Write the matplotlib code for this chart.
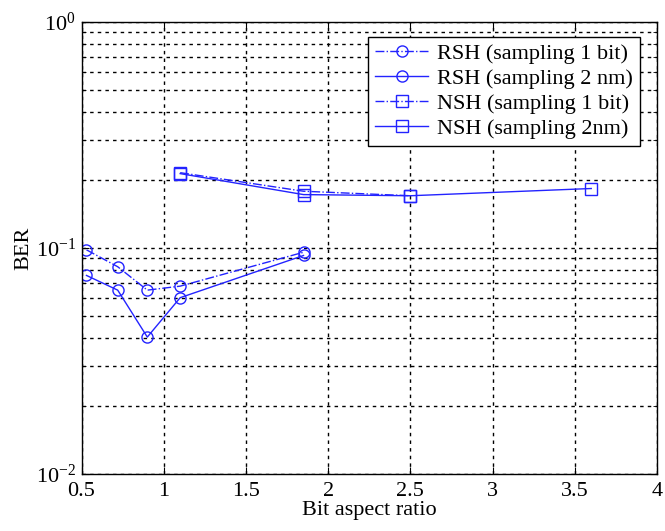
import numpy as np
import matplotlib.pyplot as plt
from matplotlib.ticker import LogLocator, FixedLocator, NullFormatter

# ---------------------------------------------------------
# STYLE
# ---------------------------------------------------------
plt.rcParams.update({
    "font.family": "Liberation Serif",
    "mathtext.fontset": "custom",
    "mathtext.rm": "Liberation Serif",
    "mathtext.it": "Liberation Serif:italic",
    "font.size": 16,
    "axes.linewidth": 1.0,
})

# ---------------------------------------------------------
# DATA
# ---------------------------------------------------------
rsh_x = [0.53, 0.72, 0.90, 1.10, 1.85]
rsh_1bit = [0.098, 0.0825, 0.065, 0.0677, 0.0956]
rsh_2nm = [0.0755, 0.065, 0.0403, 0.0602, 0.0925]

nsh_1bit_x = [1.10, 1.85, 2.50]
nsh_1bit = [0.215, 0.178, 0.170]
nsh_2nm_x = [1.10, 1.85, 2.50, 3.60]
nsh_2nm = [0.213, 0.172, 0.170, 0.183]

labels = ["RSH (sampling 1 bit)", "RSH (sampling 2 nm)",
          "NSH (sampling 1 bit)", "NSH (sampling 2nm)"]

blue = "#2323ff"

fig = plt.figure(figsize=(6.65, 5.31), dpi=100)
ax = fig.add_axes([0.1226, 0.1075, 0.8654, 0.8515])

mk = dict(markersize=8, markerfacecolor="none", markeredgewidth=1.0, linewidth=1.0)
ax.plot(rsh_x, rsh_1bit, linestyle="-.", marker="o", color=blue, label=labels[0], **mk)
ax.plot(rsh_x, rsh_2nm, linestyle="-", marker="o", color=blue, label=labels[1], **mk)
ax.plot(nsh_1bit_x, nsh_1bit, linestyle="-.", marker="s", color=blue, label=labels[2], **mk)
ax.plot(nsh_2nm_x, nsh_2nm, linestyle="-", marker="s", color=blue, label=labels[3], **mk)

ax.set_yscale("log")
ax.set_xlim(0.5, 4)
ax.set_ylim(1e-2, 1e0)
ax.xaxis.set_major_locator(FixedLocator(np.arange(0.5, 4.01, 0.5)))
ax.set_xticklabels(["0.5", "1", "1.5", "2", "2.5", "3", "3.5", "4"])
ax.yaxis.set_major_locator(LogLocator(base=10, numticks=5))
ax.yaxis.set_minor_locator(LogLocator(base=10, subs=np.arange(2, 10), numticks=20))
ax.yaxis.set_minor_formatter(NullFormatter())

ax.tick_params(which="both", direction="in", top=True, right=True)
ax.tick_params(which="major", length=5, labelsize=16)
ax.tick_params(which="minor", length=3)
ax.tick_params(axis="x", pad=6)
ax.tick_params(axis="y", pad=4)

grid_style = dict(color="black", linestyle=(0, (2.5, 3)), linewidth=1.0)
ax.grid(True, which="major", axis="both", **grid_style)
ax.grid(True, which="minor", axis="y", **grid_style)

ax.set_xlabel("Bit aspect ratio", fontsize=16, labelpad=0)
ax.set_ylabel("BER", fontsize=16, labelpad=2)

leg = ax.legend(loc="upper right", bbox_to_anchor=(0.97, 0.967), borderaxespad=0,
                fontsize=16, handlelength=2.4, fancybox=False, framealpha=1,
                edgecolor="black", labelspacing=0.2, borderpad=0.3, handletextpad=0.4)
leg.get_frame().set_linewidth(1.0)

fig.savefig("out.png", dpi=100)
